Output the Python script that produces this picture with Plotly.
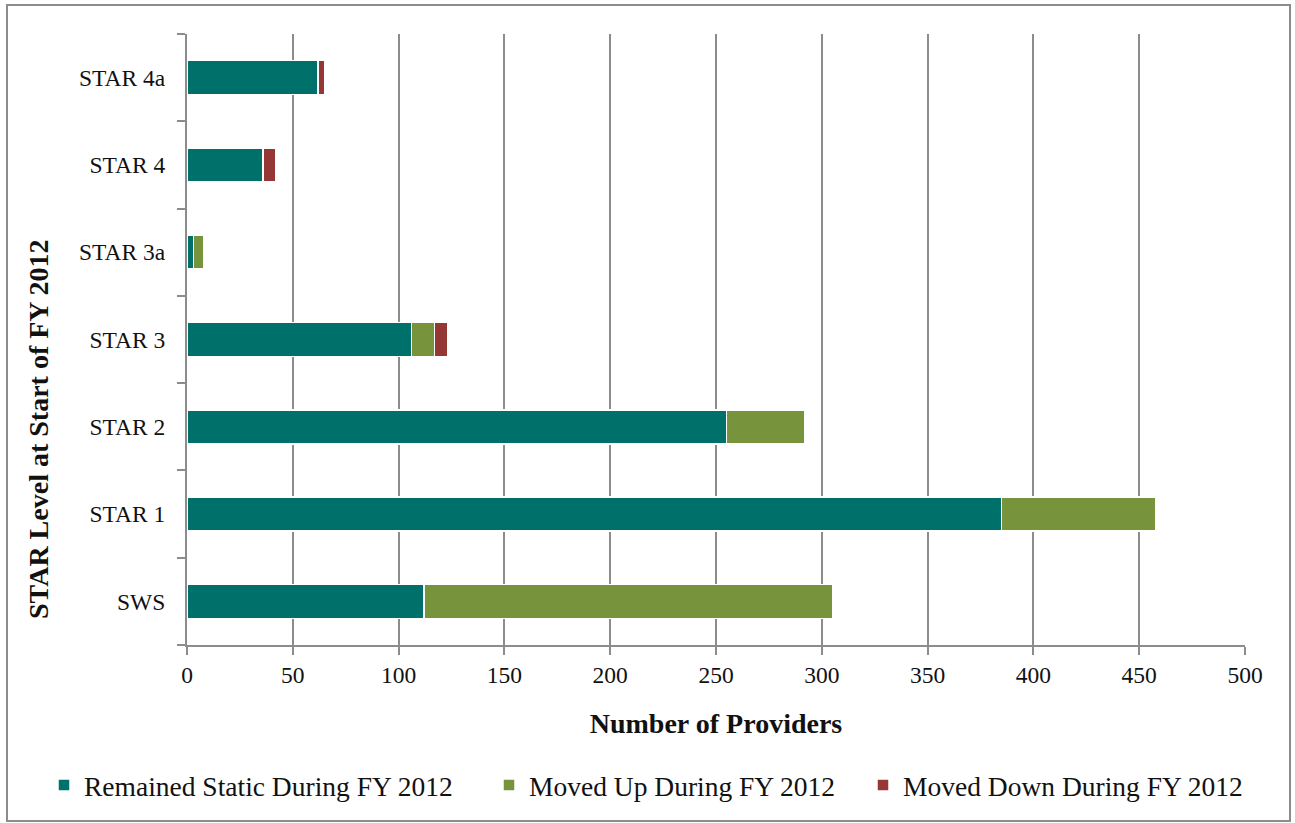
import plotly.graph_objects as go

# STAR levels (bottom to top) and provider counts per outcome
levels = ["SWS", "STAR 1", "STAR 2", "STAR 3", "STAR 3a", "STAR 4", "STAR 4a"]
remained_static = [112, 385, 255, 106, 3, 36, 62]
moved_up = [193, 73, 37, 11, 5, 0, 0]
moved_down = [0, 0, 1, 6, 0, 6, 3]

x_ticks = [0, 50, 100, 150, 200, 250, 300, 350, 400, 450, 500]

TEAL = "#00706B"
GREEN = "#77933C"
RED = "#953735"
GRID = "#8C8C8C"
INK = "#111111"
FONT = "Liberation Serif"

fig = go.Figure()
series = [
    ("Remained Static During FY 2012", remained_static, TEAL, "legend"),
    ("Moved Up During FY 2012", moved_up, GREEN, "legend2"),
    ("Moved Down During FY 2012", moved_down, RED, "legend3"),
]
for name, vals, color, lg in series:
    fig.add_trace(go.Bar(
        y=levels, x=vals, name=name, orientation="h",
        marker=dict(color=color, line=dict(color="white", width=1.5)),
        width=0.39, legend=lg,
    ))

W, H = 1295, 823
L, R, T, B = 187, 50, 34, 178
pw, ph = W - L - R, H - T - B


def px_to_paper_x(px):
    return (px - L) / pw


def px_to_paper_y(py):
    return (H - B - py) / ph


legend_style = dict(
    orientation="h", xref="container", yref="container",
    yanchor="middle", y=1 - 785 / H,
    font=dict(family=FONT, size=27.5, color=INK),
    bgcolor="rgba(0,0,0,0)", borderwidth=0,
)

fig.update_layout(
    width=W, height=H,
    margin=dict(l=L, r=R, t=T, b=B, autoexpand=False),
    paper_bgcolor="white", plot_bgcolor="white",
    barmode="stack", bargap=0.6,
    font=dict(family=FONT, color=INK),
    showlegend=True,
    legend=dict(legend_style, x=44 / W, xanchor="left"),
    legend2=dict(legend_style, x=489 / W, xanchor="left"),
    legend3=dict(legend_style, x=863 / W, xanchor="left"),
    xaxis=dict(
        range=[0, 500], tickvals=x_ticks, ticktext=[str(v) for v in x_ticks],
        showgrid=True, gridcolor=GRID, gridwidth=2,
        showline=True, linecolor=GRID, linewidth=2,
        ticks="outside", ticklen=8, tickcolor=GRID, tickwidth=2,
        tickfont=dict(family=FONT, size=23.5, color=INK),
        zeroline=False,
        title=dict(text="<b>Number of Providers</b>", standoff=26,
                   font=dict(family=FONT, size=28, color=INK)),
    ),
    yaxis=dict(
        categoryorder="array", categoryarray=levels, range=[-0.5, 6.5],
        showgrid=False, showline=True, linecolor=GRID, linewidth=2,
        ticks="outside", ticklen=8, tickcolor=GRID, tickwidth=2,
        tickson="boundaries", ticklabelstandoff=15,
        tickfont=dict(family=FONT, size=23.5, color=INK),
        zeroline=False,
    ),
    annotations=[dict(
        text="<b>STAR Level at Start of FY 2012</b>", textangle=-90,
        xref="paper", yref="paper",
        x=px_to_paper_x(38), y=px_to_paper_y(429),
        xanchor="center", yanchor="middle", showarrow=False,
        font=dict(family=FONT, size=28, color=INK),
    )],
    shapes=[dict(
        type="rect", xref="paper", yref="paper",
        x0=px_to_paper_x(7), x1=px_to_paper_x(1290),
        y0=px_to_paper_y(821), y1=px_to_paper_y(5),
        line=dict(color=GRID, width=2), fillcolor="rgba(0,0,0,0)", layer="below",
    )],
)

fig.write_html("out.html")
